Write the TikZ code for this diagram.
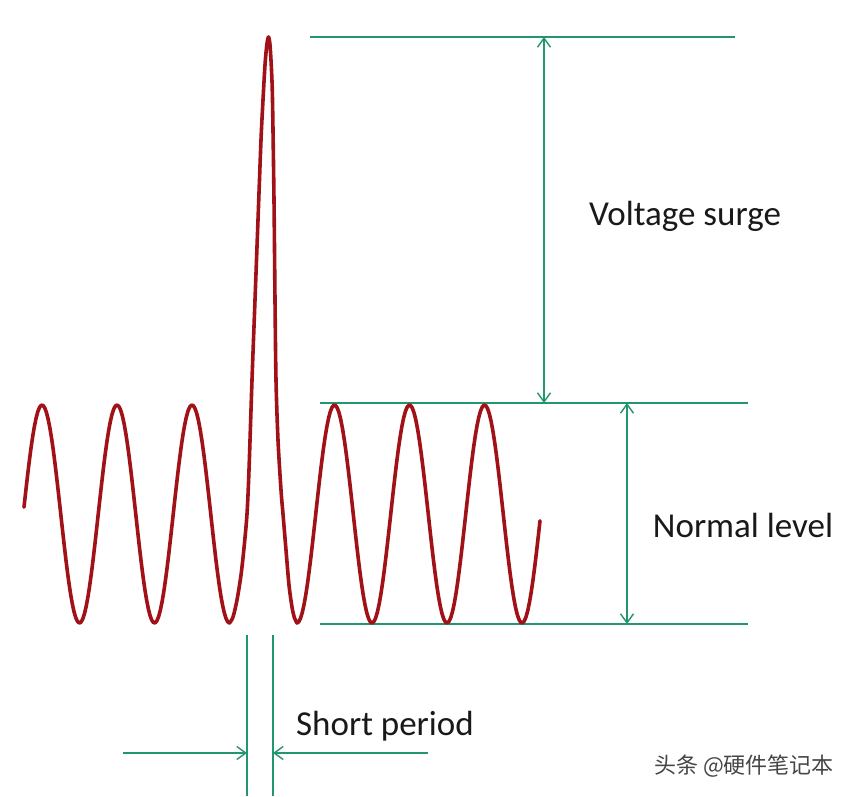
\documentclass[tikz,border=0pt]{standalone}
\usepackage{fontspec}
\setmainfont{Carlito}
\newfontfamily\cjk{Noto Sans CJK SC}
\usetikzlibrary{arrows.meta}
\definecolor{wavered}{RGB}{160,18,24}
\definecolor{dimgreen}{RGB}{34,150,110}
\definecolor{wmgray}{RGB}{70,70,70}
\tikzset{
  wave/.style={draw=wavered, line width=3.6pt, line join=round, line cap=round},
  guide/.style={draw=dimgreen, line width=1.4pt},
  dimarrow/.style={guide, arrows={Straight Barb[length=9pt,width=13pt]-Straight Barb[length=9pt,width=13pt]}},
  onearrow/.style={guide, -{Straight Barb[length=9pt,width=13pt]}},
  label/.style={font=\fontsize{35}{40}\selectfont, text=black!90, anchor=base, inner sep=0pt},
}
\begin{document}
\begin{tikzpicture}[x=1pt,y=-1pt]
\useasboundingbox[fill=white] (0,0) rectangle (852,796);

% coordinates of guide lines
\coordinate (topL) at (310,37);
\coordinate (topR) at (735,37);
\coordinate (midL) at (320,403);
\coordinate (midR) at (748,403);
\coordinate (botL) at (320,624);
\coordinate (botR) at (748,624);
\coordinate (vsTop) at (544,37);
\coordinate (vsBot) at (544,403);
\coordinate (nlTop) at (627,403);
\coordinate (nlBot) at (627,624);
\coordinate (spA1) at (247,635);
\coordinate (spA2) at (247,796);
\coordinate (spB1) at (273,635);
\coordinate (spB2) at (273,796);
\coordinate (arLs) at (123,753);
\coordinate (arLe) at (247,753);
\coordinate (arRs) at (428,753);
\coordinate (arRe) at (273,753);

% guide lines
\draw[guide] (topL) -- (topR);
\draw[guide] (midL) -- (midR);
\draw[guide] (botL) -- (botR);
\draw[dimarrow] (vsTop) -- (vsBot);
\draw[dimarrow] (nlTop) -- (nlBot);
\draw[guide] (spA1) -- (spA2);
\draw[guide] (spB1) -- (spB2);
\draw[onearrow] (arLs) -- (arLe);
\draw[onearrow] (arRs) -- (arRe);

% waveform
\draw[wave] plot[domain=24:229.5, samples=120] (\x, {514-109*cos(4.8*(\x-42))})
  -- plot[smooth, tension=0.5] coordinates {
    (229.5,623) (233,617) (237,600) (241,575) (244,548) (247,514) (249,470)
    (252,380) (255,300) (258,220) (261,140) (263,100) (265,65) (266.8,45) (268.5,37)
    (270,45) (271.5,70) (272.5,100) (274,200) (275,300) (276,380) (278,440)
    (281,490) (283,514) (286,550) (289,585) (292,607) (294.5,618) (297,623)}
  -- plot[domain=297:540, samples=140] (\x, {514+109*cos(4.8*(\x-297))});

% labels
\node[label] (vs) at (685,225) {Voltage surge};
\node[label] (nl) at (743,537) {Normal level};
\node[label] (sp) at (385,735) {Short period};
\node[font=\cjk\fontsize{22}{25}\selectfont, text=wmgray, inner sep=0pt] (wm) at (744,766) {头条 @硬件笔记本};
\end{tikzpicture}
\end{document}
